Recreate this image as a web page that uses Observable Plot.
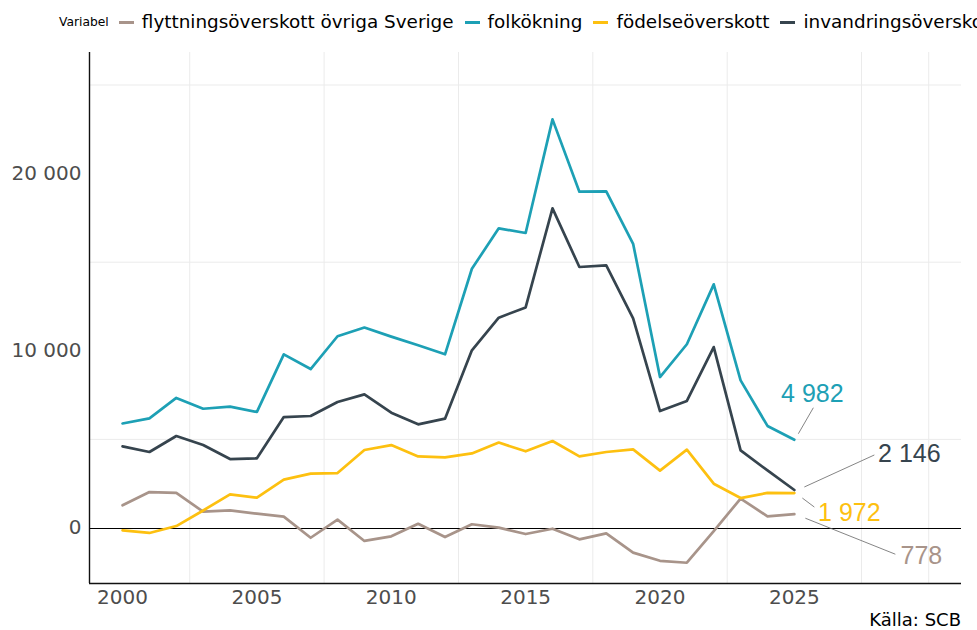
<!DOCTYPE html>
<html>
<head>
<meta charset="utf-8">
<script src="https://cdn.jsdelivr.net/npm/d3@7"></script>
<script src="https://cdn.jsdelivr.net/npm/@observablehq/plot@0.6"></script>
<style>
  html, body { margin: 0; padding: 0; background: #fff; overflow: hidden; }
  #wrap { position: relative; width: 977px; height: 630px; overflow: hidden; font-family: "DejaVu Sans", sans-serif; }
  #chart { position: absolute; left: 0; top: 0; }
  #legend { position: absolute; left: 59px; top: 13px; height: 18px; line-height: 18px; display: flex; align-items: center; white-space: nowrap; }
  #legend .title { font-size: 12.3px; color: #000; margin-right: 10px; }
  #legend .sw { width: 15px; height: 3px; margin-right: 8px; flex: none; }
  #legend .lab { font-size: 18.4px; color: #000; margin-right: 11px; }
  #caption { position: absolute; right: 16px; top: 611px; font-size: 18px; line-height: 18px; color: #000; white-space: nowrap; }
</style>
</head>
<body>
<div id="wrap">
  <div id="chart"></div>
  <div id="legend"></div>
  <div id="caption"></div>
</div>
<script>
// ---- data ----
const years = [2000, 2001, 2002, 2003, 2004, 2005, 2006, 2007, 2008, 2009, 2010, 2011, 2012,
               2013, 2014, 2015, 2016, 2017, 2018, 2019, 2020, 2021, 2022, 2023, 2024, 2025];
const seriesNames = ["flyttningsöverskott övriga Sverige", "folkökning", "födelseöverskott", "invandringsöverskott"];
const seriesColors = ["#A8948A", "#1DA0B5", "#FDC010", "#36444E"];
const flyttning = [1280, 2030, 1980, 920, 990, 810, 640, -550, 470, -730, -470, 240, -510,
                   210, 20, -340, -40, -640, -300, -1390, -1850, -1960, -170, 1660, 660, 778];
const folkokning = [5900, 6190, 7340, 6730, 6850, 6550, 9800, 8970, 10820, 11310, 10800, 10310, 9800,
                    14630, 16910, 16650, 23060, 18980, 19000, 16040, 8520, 10370, 13750, 8330, 5760, 4982];
const fodelse = [-130, -280, 110, 990, 1900, 1710, 2730, 3070, 3100, 4400, 4680, 4040, 3990,
                 4210, 4820, 4330, 4910, 4040, 4290, 4440, 3240, 4420, 2500, 1690, 1980, 1972];
const invandring = [4610, 4290, 5190, 4680, 3890, 3930, 6260, 6320, 7110, 7540, 6510, 5850, 6170,
                    10030, 11870, 12450, 18040, 14730, 14820, 11830, 6600, 7170, 10210, 4380, 3250, 2146];
const xTicks = [2000, 2005, 2010, 2015, 2020, 2025];
const yTicks = [0, 10000, 20000];
const xGrid = [2002.5, 2007.5, 2012.5, 2017.5, 2022.5, 2027.5, 2030];
const yGrid = [5000, 15000, 25000];
const legendTitle = "Variabel";
const captionText = "Källa: SCB";

// ---- layout ----
const W = 977, H = 630;
const M = {top: 52, right: 16, bottom: 47, left: 89};
const xDomain = [1998.77, 2031.22];
const yDomain = [-3132, 26834];
// label placement: pixel offsets from the last point
const labelLayout = {
  "folkökning":                          {t: [18, -46],  a: [4, -6],  b: [19, -32]},
  "invandringsöverskott":                {t: [115, -36], a: [10, -3], b: [80, -35]},
  "födelseöverskott":                    {t: [55, 20],   a: [8, 5],   b: [20, 14]},
  "flyttningsöverskott övriga Sverige":  {t: [127, 42],  a: [11, 4],  b: [101, 40]}
};

const seriesValues = [flyttning, folkokning, fodelse, invandring];
const rows = seriesNames.flatMap((s, i) => years.map((yr, j) => ({series: s, year: yr, value: seriesValues[i][j]})));
const colorOf = Object.fromEntries(seriesNames.map((s, i) => [s, seriesColors[i]]));
const fmt = v => d3.format(",")(v).replace(/,/g, " ");

const xs = d3.scaleLinear(xDomain, [M.left, W - M.right]);
const ys = d3.scaleLinear(yDomain, [H - M.bottom, M.top]);
const lastYear = years[years.length - 1];
const ends = seriesNames.map((s, i) => ({series: s, value: seriesValues[i][seriesValues[i].length - 1]}));
const labels = ends.map(e => {
  const L = labelLayout[e.series];
  const px = xs(lastYear), py = ys(e.value);
  return {
    series: e.series, text: fmt(e.value),
    tx: xs.invert(px + L.t[0]), ty: ys.invert(py + L.t[1]),
    x1: xs.invert(px + L.a[0]), y1: ys.invert(py + L.a[1]),
    x2: xs.invert(px + L.b[0]), y2: ys.invert(py + L.b[1])
  };
});

const plot = Plot.plot({
  width: W, height: H,
  marginTop: M.top, marginRight: M.right, marginBottom: M.bottom, marginLeft: M.left,
  style: {fontFamily: "DejaVu Sans, sans-serif", fontSize: "20px", color: "#4d4d4d", background: "transparent"},
  x: {domain: xDomain, ticks: xTicks, tickFormat: d => String(d), tickSize: 0, tickPadding: 6, label: null},
  y: {domain: yDomain, ticks: yTicks, tickFormat: fmt, tickSize: 0, tickPadding: 8, label: null},
  color: {domain: seriesNames, range: seriesColors},
  marks: [
    Plot.ruleX(xGrid, {stroke: "#ebebeb", strokeWidth: 1}),
    Plot.ruleY(yGrid, {stroke: "#ebebeb", strokeWidth: 1}),
    Plot.ruleY([0], {stroke: "#000", strokeWidth: 1, shapeRendering: "crispEdges"}),
    Plot.ruleX([xDomain[0]], {stroke: "#111", strokeWidth: 1.4}),
    Plot.ruleY([yDomain[0]], {stroke: "#111", strokeWidth: 1.4}),
    Plot.line(rows, {x: "year", y: "value", z: "series", stroke: "series", strokeWidth: 2.7, strokeLinejoin: "round"}),
    Plot.link(labels, {x1: "x1", y1: "y1", x2: "x2", y2: "y2", stroke: "#666", strokeWidth: 0.8}),
    Plot.text(labels, {x: "tx", y: "ty", text: "text", fill: d => colorOf[d.series],
      fontSize: 25, fontFamily: "Liberation Sans, Arial, sans-serif", textAnchor: "middle"})
  ]
});
document.getElementById("chart").appendChild(plot);

// legend
const leg = document.getElementById("legend");
const t = document.createElement("span"); t.className = "title"; t.textContent = legendTitle; leg.appendChild(t);
seriesNames.forEach((s, i) => {
  const sw = document.createElement("span"); sw.className = "sw"; sw.style.background = seriesColors[i]; leg.appendChild(sw);
  const lb = document.createElement("span"); lb.className = "lab"; lb.textContent = s; leg.appendChild(lb);
});
document.getElementById("caption").textContent = captionText;
</script>
</body>
</html>
